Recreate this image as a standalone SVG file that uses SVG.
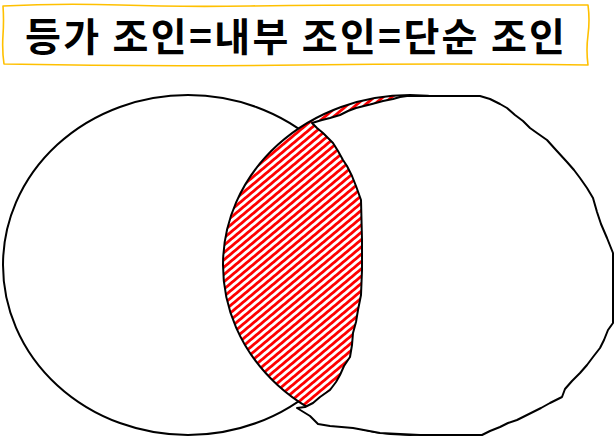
<svg xmlns="http://www.w3.org/2000/svg" width="616" height="437" viewBox="0 0 616 437">
<style>
.outline{stroke:#000;stroke-width:2;stroke-linejoin:round;stroke-linecap:round}
.title-box{fill:#fff;stroke:#FFC000;stroke-width:1.6;stroke-linejoin:round}
.title-text{font-family:"Noto Sans CJK KR","Noto Sans",sans-serif;font-weight:bold;font-size:39px;fill:#000}
</style>
<defs>
<pattern id="hatch" width="5.6" height="10" patternUnits="userSpaceOnUse" patternTransform="rotate(50)">
<rect width="5.6" height="10" fill="#fff"/>
<rect width="2.8" height="10" fill="#ff0000"/>
</pattern>
</defs>
<rect width="616" height="437" fill="#fff"/>
<g id="title">
<path class="title-box" d="M3 6 Q60 3 120 5 T250 6 T400 5 T588 5 Q590 20 588 35 T588 65 Q450 63 300 65 T4 64 Q2 50 3 35 T3 6 Z"/>
<text class="title-text" x="295" y="51" text-anchor="middle" textLength="540" lengthAdjust="spacing">등가 조인=내부 조인=단순 조인</text>
</g>
<g id="left-set">
<ellipse class="outline" cx="188" cy="265" rx="185" ry="170" fill="#fff"/>
</g>
<g id="right-set">
<ellipse class="outline" cx="410" cy="265" rx="187" ry="170" fill="url(#hatch)"/>
<path class="outline" fill="#fff" d="M407 96 L480 96 L490 99 L500 104 L507 108 L515 115 L523 121 L530 128 L537 133 L547 140 L556 150 L567 162 L574 170 L580 178 L587 188 L593 198 L597 212 L601 224 L607 238 L613 253 L613 290 L613 323 L608 330 L604 340 L600 348 L593 357 L587 365 L580 373 L572 381 L565 389 L562 397 L550 403 L541 408 L533 412 L525 416 L517 420 L508 423 L500 427 L490 431 L482 435 L420 435 L380 433 L353 428 L330 426 L318 424 L310 416 L297 408 L305 407 L313 403 L320 397 L330 390 L336 382 L340 375 L344 366 L350 357 L352 345 L353 333 L356 322 L358 310 L361 295 L362 270 L362 240 L361 200 L356 186 L352 176 L347 166 L343 160 L338 151 L333 143 L328 138 L323 133 L317 128 L312 123 L322 120 L330 118 L340 115 L348 111 L356 108 L364 106 L372 104 L383 101 L393 99 L400 97 Z"/>
</g>
</svg>
